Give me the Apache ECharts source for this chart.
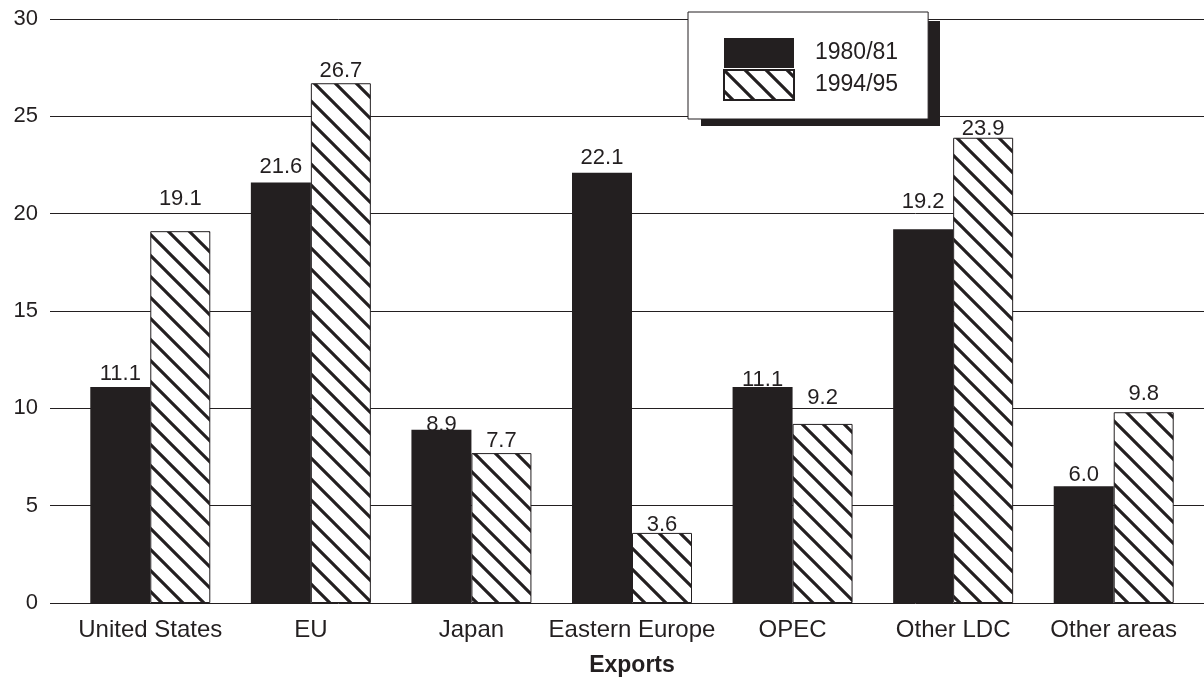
<!DOCTYPE html>
<html>
<head>
<meta charset="utf-8">
<script src="https://cdn.jsdelivr.net/npm/echarts@6/dist/echarts.min.js"></script>
<style>
  html, body { margin: 0; padding: 0; background: #fff; }
  #main { width: 1204px; height: 679px; }
</style>
</head>
<body>
<div id="main"></div>
<script>
var categories = ['United States', 'EU', 'Japan', 'Eastern Europe', 'OPEC', 'Other LDC', 'Other areas'];
var seriesNames = ['1980/81', '1994/95'];
var exports8081 = [11.1, 21.6, 8.9, 22.1, 11.1, 19.2, 6.0];
var exports9495 = [19.1, 26.7, 7.7, 3.6, 9.2, 23.9, 9.8];
var yTicks = [0, 5, 10, 15, 20, 25, 30];

// how far each value label sits above its bar (the original nudges some off the grid lines)
var gap8081 = [2, 5, -6, 4, -4, 16, 0];
var gap9495 = [21, 1, 1, -3, 15, -2, 7];

var ink = '#231f20';
var font = 'Liberation Sans';
var fs = 22;

function hatch() {
    var n = 21;
    var c = document.createElement('canvas');
    c.width = n; c.height = n;
    var ctx = c.getContext('2d');
    ctx.fillStyle = '#fff';
    ctx.fillRect(0, 0, n, n);
    ctx.strokeStyle = ink;
    ctx.lineWidth = 3.1;
    ctx.beginPath();
    ctx.moveTo(-5, -5); ctx.lineTo(n + 5, n + 5);
    ctx.moveTo(n - 5, -5); ctx.lineTo(n + 5, 5);
    ctx.moveTo(-5, n - 5); ctx.lineTo(5, n + 5);
    ctx.stroke();
    return c;
}

function withLabels(values, gaps) {
    return values.map(function (v, i) {
        return { value: v, label: { distance: gaps[i] } };
    });
}

var chart = echarts.init(document.getElementById('main'));

var valueLabel = {
    show: true,
    position: 'top',
    fontSize: fs,
    color: ink,
    fontFamily: font,
    formatter: function (p) { return p.value.toFixed(1); }
};

var option = {
    animation: false,
    textStyle: { fontFamily: font, color: ink },
    graphic: [{
        type: 'rect',
        z: 3,
        shape: { x: 701, y: 21, width: 239, height: 105 },
        style: { fill: ink }
    }],
    legend: {
        data: seriesNames,
        orient: 'vertical',
        left: 688,
        top: 12,
        padding: [26, 30, 18, 35],
        itemWidth: 70,
        itemHeight: 30,
        itemGap: 1,
        icon: 'rect',
        backgroundColor: '#fff',
        borderColor: ink,
        borderWidth: 1,
        textStyle: { fontSize: 23, color: ink, fontFamily: font, padding: [0, 0, 0, 16] }
    },
    grid: [
        { left: 50, right: 0, top: 19, bottom: 76, outerBoundsMode: 'none' },
        { left: 70, right: 10, top: 19, bottom: 76, outerBoundsMode: 'none' }
    ],
    xAxis: [
        { type: 'value', gridIndex: 0, show: false, min: 0, max: 1 },
        {
            type: 'category',
            gridIndex: 1,
            data: categories,
            axisLine: { show: false },
            axisTick: { show: false },
            axisLabel: { fontSize: 24, color: ink, fontFamily: font, margin: 15, interval: 0 },
            name: 'Exports',
            nameLocation: 'middle',
            nameGap: 51,
            nameTextStyle: { fontSize: 23, fontWeight: 'bold', color: ink, fontFamily: font }
        }
    ],
    yAxis: [
        {
            type: 'value',
            gridIndex: 0,
            min: yTicks[0],
            max: yTicks[yTicks.length - 1],
            interval: yTicks[1] - yTicks[0],
            axisLine: { show: false },
            axisTick: { show: false },
            axisLabel: { fontSize: fs, color: ink, fontFamily: font, margin: 12 },
            splitLine: { lineStyle: { color: ink, width: 1 } }
        },
        {
            type: 'value',
            gridIndex: 1,
            min: yTicks[0],
            max: yTicks[yTicks.length - 1],
            show: false,
            splitLine: { show: false }
        }
    ],
    series: [
        {
            name: seriesNames[0],
            type: 'bar',
            xAxisIndex: 1,
            yAxisIndex: 1,
            barWidth: 60,
            barGap: 0,
            data: withLabels(exports8081, gap8081),
            itemStyle: { color: ink },
            label: valueLabel
        },
        {
            name: seriesNames[1],
            type: 'bar',
            xAxisIndex: 1,
            yAxisIndex: 1,
            barWidth: 60,
            barGap: 0,
            data: withLabels(exports9495, gap9495),
            itemStyle: {
                color: { image: hatch(), repeat: 'repeat' },
                borderColor: ink,
                borderWidth: 1
            },
            label: valueLabel
        }
    ]
};

chart.setOption(option);
window.onresize = chart.resize;
</script>
</body>
</html>
